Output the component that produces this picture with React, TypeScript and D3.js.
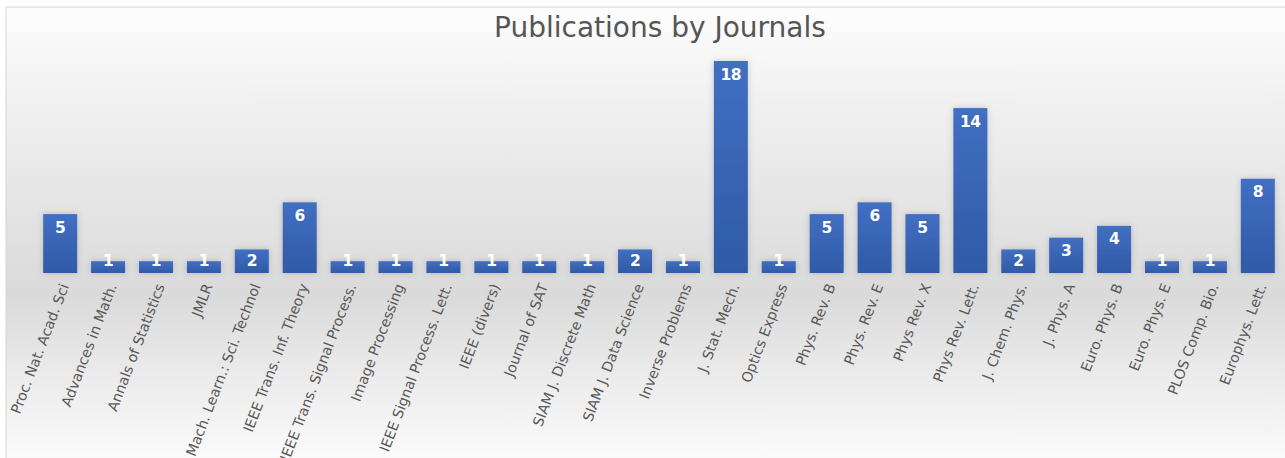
import * as d3 from "d3";

const W = 1285;
const H = 458;
const FRAME = { left: 6, top: 7, right: 1290, bottom: 462 };
const PLOT = { left: 36, right: 1282, top: 61, bottom: 273 };

const TITLE = "Publications by Journals";

const journals = [
  "Proc. Nat. Acad. Sci",
  "Advances in Math.",
  "Annals of Statistics",
  "JMLR",
  "Mach. Learn.: Sci. Technol",
  "IEEE Trans. Inf. Theory",
  "IEEE Trans. Signal Process.",
  "Image Processing",
  "IEEE Signal Process. Lett.",
  "IEEE (divers)",
  "Journal of SAT",
  "SIAM J. Discrete Math",
  "SIAM J. Data Science",
  "Inverse Problems",
  "J. Stat. Mech.",
  "Optics Express",
  "Phys. Rev. B",
  "Phys. Rev. E",
  "Phys Rev. X",
  "Phys Rev. Lett.",
  "J. Chem. Phys.",
  "J. Phys. A",
  "Euro. Phys. B",
  "Euro. Phys. E",
  "PLOS Comp. Bio.",
  "Europhys. Lett.",
];

const counts = [5, 1, 1, 1, 2, 6, 1, 1, 1, 1, 1, 1, 2, 1, 18, 1, 5, 6, 5, 14, 2, 3, 4, 1, 1, 8];

export default function App() {
  const x = d3
    .scaleBand()
    .domain(journals)
    .range([PLOT.left, PLOT.right])
    .paddingInner(0.29)
    .paddingOuter(0.15);

  const y = d3
    .scaleLinear()
    .domain([0, 18])
    .range([PLOT.bottom, PLOT.top]);

  const fh = FRAME.bottom - FRAME.top;

  return (
    <svg
      width={W}
      height={H}
      style={{ position: "absolute", left: 0, top: 0 }}
      fontFamily="DejaVu Sans"
    >
      <defs>
        <linearGradient id="bg" x1="0" y1="0" x2="0" y2="1">
          <stop offset="0" stopColor="#fdfdfd" />
          <stop offset="0.2" stopColor="#f1f1f1" />
          <stop offset="0.43" stopColor="#e5e5e5" />
          <stop offset="0.63" stopColor="#dadada" />
          <stop offset="0.82" stopColor="#ececec" />
          <stop offset="1" stopColor="#fbfbfb" />
        </linearGradient>
        <linearGradient id="bar" x1="0" y1="0" x2="0" y2="1">
          <stop offset="0" stopColor="#426fc2" />
          <stop offset="1" stopColor="#2f5aa6" />
        </linearGradient>
        <filter id="glow" x="-30%" y="-30%" width="160%" height="160%">
          <feDropShadow dx="0" dy="0" stdDeviation="3" floodColor="#000" floodOpacity="0.18" />
        </filter>
      </defs>

      <rect
        x={FRAME.left}
        y={FRAME.top}
        width={FRAME.right - FRAME.left}
        height={fh}
        fill="url(#bg)"
        stroke="#d6d6d6"
        strokeWidth={1}
      />

      <text x={660} y={37} textAnchor="middle" fontSize={28} fill="#555555">
        {TITLE}
      </text>

      <g filter="url(#glow)">
        {journals.map((j, i) => (
          <rect
            key={j}
            x={x(j)}
            y={y(counts[i])}
            width={x.bandwidth()}
            height={y(0) - y(counts[i])}
            fill="url(#bar)"
          />
        ))}
      </g>

      {journals.map((j, i) => {
        const cx = x(j)! + x.bandwidth() / 2;
        const cy = Math.min(y(counts[i]) + 13, y(0) - 12.5);
        return (
          <text
            key={"v" + j}
            x={cx}
            y={cy}
            dy="0.36em"
            textAnchor="middle"
            fontSize={15.5}
            fontWeight="bold"
            letterSpacing={-0.5}
            fill="#ffffff"
          >
            {counts[i]}
          </text>
        );
      })}

      {/* rotated category labels, end of text near the bar */}
      {journals.map((j) => {
        const cx = x(j)! + x.bandwidth() / 2 + 9;
        const cy = 286;
        return (
          <text
            key={"l" + j}
            transform={`translate(${cx},${cy}) rotate(-69)`}
            textAnchor="end"
            fontSize={14.2}
            fill="#595959"
          >
            {j}
          </text>
        );
      })}
    </svg>
  );
}
